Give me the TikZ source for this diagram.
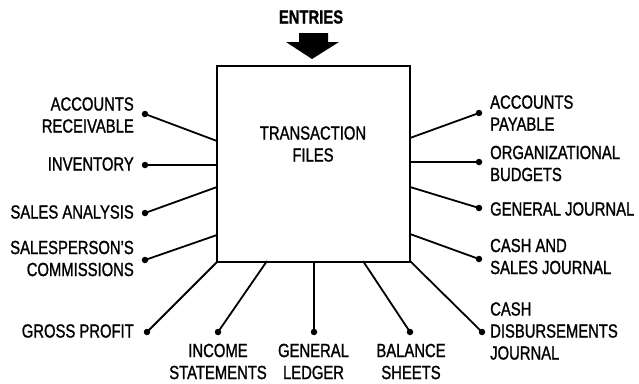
\documentclass[tikz,border=0pt]{standalone}
\usepackage{fontspec}
\setmainfont{Liberation Sans}[FakeStretch=0.78,FakeBold=1.2]
\begin{document}
\begin{tikzpicture}[x=1pt,y=-1pt,
  lbl/.style={inner sep=0pt,font=\fontsize{19}{22}\selectfont},
  lft/.style={lbl,anchor=east,align=right},
  rgt/.style={lbl,anchor=west,align=left},
  bot/.style={lbl,anchor=center,align=center},
  dot/.style={circle,fill=black,inner sep=0pt,minimum size=6.5pt},
  conn/.style={line width=1.8pt},
  filebox/.style={draw,line width=2.4pt,minimum width=193pt,minimum height=196pt,inner sep=0pt}]
\useasboundingbox (0,0) rectangle (639,383);
% box
\node[filebox] (box) at (313.5,164) {};
\node[bot] (title) at (313,144) {TRANSACTION\\FILES};
% entries
\node[lbl,font=\fontsize{19}{22}\bfseries\selectfont] (entries) at (311,17) {ENTRIES};
\fill (299,33) -- (328,33) -- (328,42) -- (339,42) -- (312,59) -- (286,42) -- (299,42) -- cycle;
% attachment points on the box
\coordinate (a1) at (217,141);
\coordinate (a2) at (217,165);
\coordinate (a3) at (217,187);
\coordinate (a4) at (217,235);
\coordinate (a5) at (218,261);
\coordinate (a6) at (267,261);
\coordinate (a7) at (314,261);
\coordinate (a8) at (363,261);
\coordinate (a9) at (410,261);
\coordinate (a10) at (410,234);
\coordinate (a11) at (410,187);
\coordinate (a12) at (410,162);
\coordinate (a13) at (410,138);
% dots
\node[dot] (d1) at (145,114) {};
\node[dot] (d2) at (145,165) {};
\node[dot] (d3) at (145,213) {};
\node[dot] (d4) at (145,260) {};
\node[dot] (d5) at (147,332) {};
\node[dot] (d6) at (218,332) {};
\node[dot] (d7) at (314,332) {};
\node[dot] (d8) at (410,332) {};
\node[dot] (d9) at (482,332) {};
\node[dot] (d10) at (479,259) {};
\node[dot] (d11) at (479,208) {};
\node[dot] (d12) at (479,162) {};
\node[dot] (d13) at (479,113) {};
% connectors
\foreach \i in {1,...,13} {\draw[conn] (d\i.center) -- (a\i);}
% labels
\node[lft] (l1) at (134,115) {ACCOUNTS\\RECEIVABLE};
\node[lft] (l2) at (134,164) {INVENTORY};
\node[lft] (l3) at (134,212) {SALES ANALYSIS};
\node[lft] (l4) at (134,258.5) {SALESPERSON'S\\COMMISSIONS};
\node[lft] (l5) at (134,331) {GROSS PROFIT};
\node[bot] (l6) at (218,361.5) {INCOME\\STATEMENTS};
\node[bot] (l7) at (313.5,361.5) {GENERAL\\LEDGER};
\node[bot] (l8) at (411,361.5) {BALANCE\\SHEETS};
\node[rgt] (l9) at (490,331) {CASH\\DISBURSEMENTS\\JOURNAL};
\node[rgt] (l10) at (490,256.5) {CASH AND\\SALES JOURNAL};
\node[rgt] (l11) at (490,209) {GENERAL JOURNAL};
\node[rgt] (l12) at (490,163.5) {ORGANIZATIONAL\\BUDGETS};
\node[rgt] (l13) at (490,113) {ACCOUNTS\\PAYABLE};
\end{tikzpicture}
\end{document}
